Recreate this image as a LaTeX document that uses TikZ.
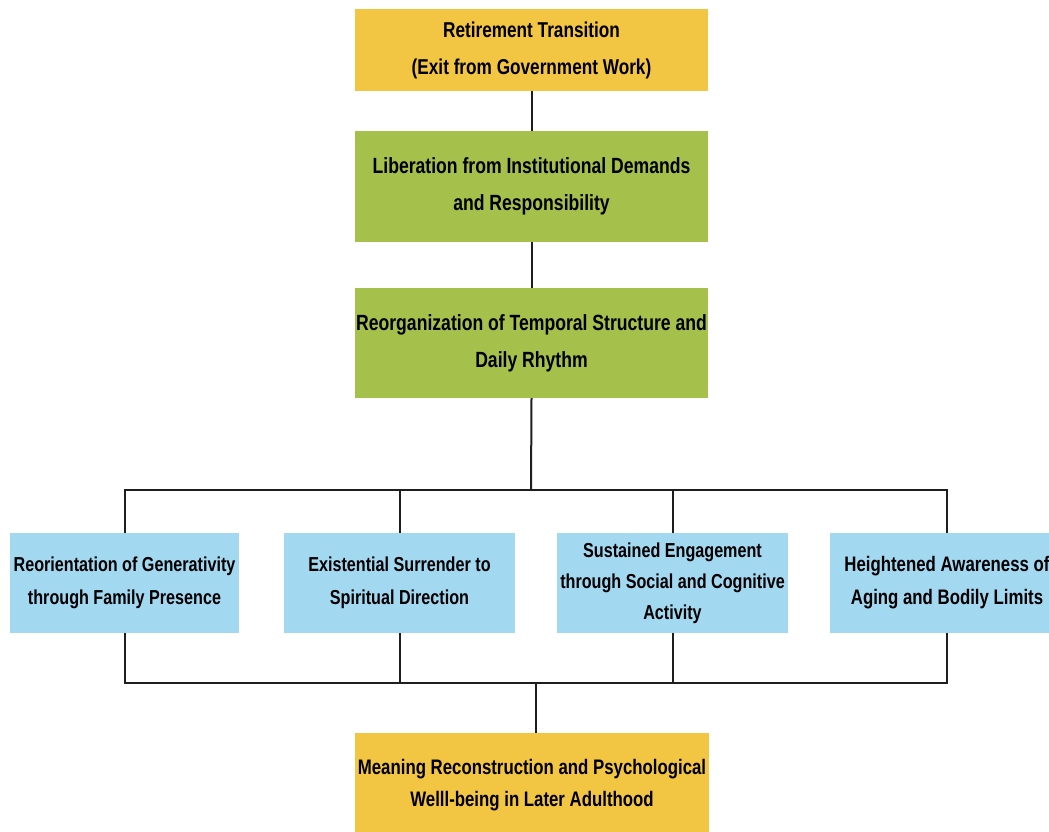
\documentclass[tikz,border=0pt]{standalone}
\usepackage{fontspec}
\setmainfont{Liberation Sans}[FakeStretch=0.8]
\definecolor{cyel}{HTML}{F2C543}
\definecolor{cgrn}{HTML}{A5C04B}
\definecolor{cblu}{HTML}{A3D8F1}
\definecolor{cline}{HTML}{1E1E1E}
\begin{document}
\begin{tikzpicture}[x=1pt,y=-1pt,
  box/.style={rectangle, inner sep=0pt, align=center, font=\bfseries\fontsize{21.5}{37}\selectfont},
  ybox/.style={box, fill=cyel},
  gbox/.style={box, fill=cgrn, font=\bfseries\fontsize{22}{37}\selectfont},
  bbox/.style={box, fill=cblu, font=\bfseries\fontsize{20.2}{33}\selectfont},
  conn/.style={draw=cline, line width=2pt}]
\useasboundingbox (0,0) rectangle (1049,832);
\node[ybox, minimum width=353pt, minimum height=82pt] (top) at (531.5,50) {Retirement Transition\\(Exit from Government Work)};
\node[gbox, minimum width=353pt, minimum height=111pt] (lib) at (531.5,186.5) {Liberation from Institutional Demands\\and Responsibility};
\node[gbox, minimum width=353pt, minimum height=110pt] (reo) at (531.5,343) {Reorganization of Temporal Structure and\\Daily Rhythm};
\node[bbox, minimum width=229pt, minimum height=100pt] (b1) at (124.5,583) {Reorientation of Generativity\\through Family Presence};
\node[bbox, minimum width=231pt, minimum height=100pt] (b2) at (399.5,583) {Existential Surrender to\\Spiritual Direction};
\node[bbox, minimum width=231pt, minimum height=100pt, font=\bfseries\fontsize{20.2}{31}\selectfont] (b3) at (672.5,583) {Sustained Engagement\\through Social and Cognitive\\Activity};
\node[bbox, minimum width=234pt, minimum height=100pt, font=\bfseries\fontsize{21}{33}\selectfont] (b4) at (947,583) {Heightened Awareness of\\Aging and Bodily Limits};
\node[ybox, minimum width=354pt, minimum height=104pt, font=\bfseries\fontsize{21}{32}\selectfont] (out) at (532,785) {Meaning Reconstruction and Psychological\\Welll-being in Later Adulthood};
\coordinate (j1) at (531,490);
\coordinate (j2) at (536,683);
\draw[conn] (top.south) -- (lib.north);
\draw[conn] (lib.south) -- (reo.north);
\draw[conn] (reo.south) -- (j1);
\draw[conn] (b1.north) |- (j1) -| (b4.north);
\draw[conn] (b2.north) -- (b2.north |- j1);
\draw[conn] (b3.north) -- (b3.north |- j1);
\draw[conn] (b1.south) |- (j2) -| (b4.south);
\draw[conn] (b2.south) -- (b2.south |- j2);
\draw[conn] (b3.south) -- (b3.south |- j2);
\draw[conn] (j2) -- (j2 |- out.north);
\end{tikzpicture}
\end{document}
